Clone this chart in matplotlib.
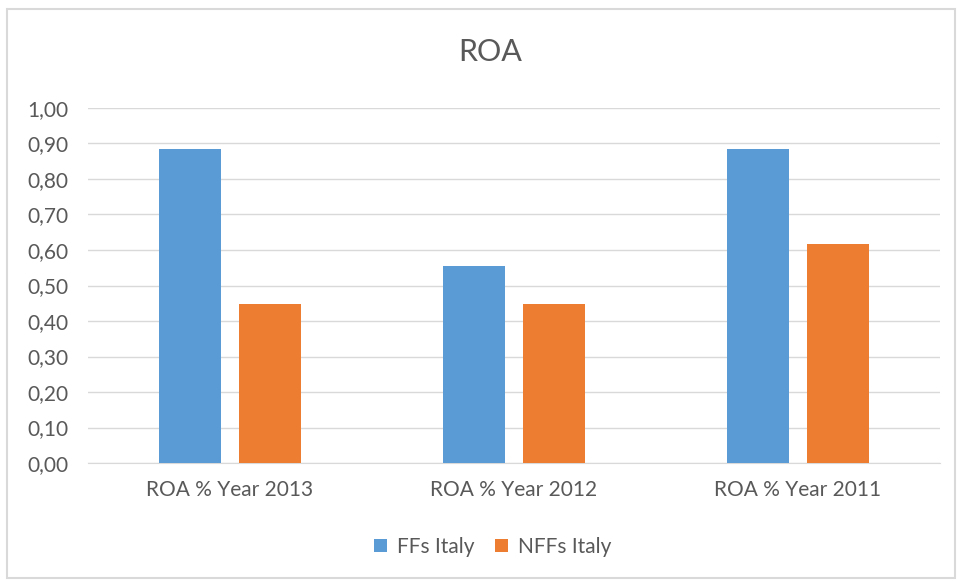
import numpy as np
import matplotlib.pyplot as plt
from matplotlib.patches import Rectangle

plt.rcParams['font.family'] = ['Lato', 'DejaVu Sans']

categories = ["ROA % Year 2013", "ROA % Year 2012", "ROA % Year 2011"]
ffs_italy = [0.885, 0.555, 0.885]
nffs_italy = [0.448, 0.448, 0.617]
yticks = np.arange(0, 1.01, 0.1)

W, H = 957, 581
fig = plt.figure(figsize=(W / 100, H / 100), dpi=100)
fig.patches.append(Rectangle((7 / W, 1 - 578 / H), 948 / W, 569 / H,
                             transform=fig.transFigure, fill=False,
                             edgecolor='#d9d9d9', lw=1.5))

ax = fig.add_axes([88 / W, 1 - 463 / H, 852 / W, 355 / H])

x = np.arange(len(categories))
w = 0.218
off = 0.141
ax.bar(x - off, ffs_italy, w, color='#5B9BD5', label='FFs Italy', zorder=3)
ax.bar(x + off, nffs_italy, w, color='#ED7D31', label='NFFs Italy', zorder=3)

ax.set_xlim(-0.5, 2.5)
ax.set_ylim(0, 1.0)
ax.set_yticks(yticks)
ax.set_yticklabels([f"{v:.2f}".replace('.', ',') for v in yticks])
ax.set_xticks(x)
ax.set_xticklabels(categories)
ax.grid(axis='y', color='#d9d9d9', lw=1, zorder=0)
for s in ['top', 'right', 'left']:
    ax.spines[s].set_visible(False)
ax.spines['bottom'].set_color('#d9d9d9')
ax.tick_params(length=0, colors='#595959', labelsize=15)
ax.tick_params(axis='x', pad=12)
ax.tick_params(axis='y', pad=14)

fig.text(490 / W, 1 - 52 / H, 'ROA', ha='center', va='center',
         fontsize=22, color='#595959')

ax.legend(loc='center', bbox_to_anchor=(493 / W, 1 - 547 / H),
          bbox_transform=fig.transFigure, ncol=2, frameon=False,
          fontsize=15, labelcolor='#595959', handlelength=0.6,
          handleheight=0.6, columnspacing=1.0, handletextpad=0.5)

fig.savefig('out.png', dpi=100)
